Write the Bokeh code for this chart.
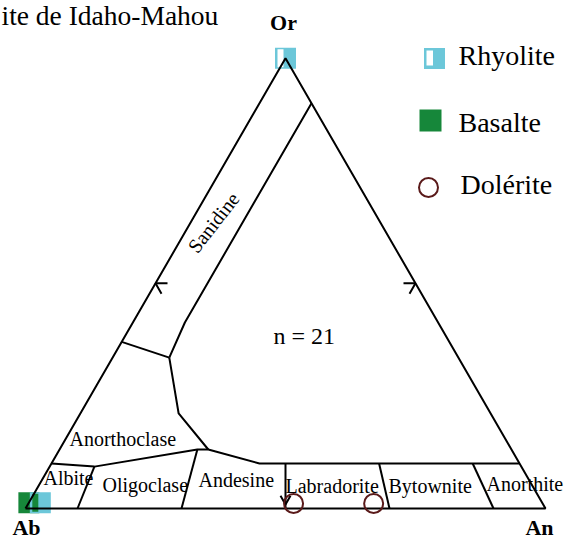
import math
from bokeh.plotting import figure
from bokeh.core.properties import value
from bokeh.embed import file_html
from bokeh.resources import INLINE

# ---------------- data ----------------
vertex_labels = ["Ab", "An", "Or"]
field_labels = ["Sanidine", "Anorthoclase", "Albite", "Oligoclase",
                "Andesine", "Labradorite", "Bytownite", "Anorthite"]
legend_labels = ["Rhyolite", "Basalte", "Dolérite"]
title_text = "ite de Idaho-Mahou"
n_samples = 21

# triangle outline (An %, Or %)
tri_an = [0, 100, 0, 0]
tri_or = [0, 0, 100, 0]
# sanidine / high-K field boundary
san_an = [10, 10, 10.9]
san_or = [90, 41.3, 33.5]
# sanidine / anorthoclase tie
tie_an = [0, 10.9]
tie_or = [37, 33.5]
# anorthoclase inner boundary
ano_an = [10.9, 18.9, 28.6]
ano_or = [33.5, 21.1, 13.1]
# plagioclase upper boundary
plag_an = [0, 8.6, 26.5, 28.6, 40, 90]
plag_or = [10, 9.3, 13.1, 13.1, 10, 10]
# plagioclase dividers
div_an_bottom = [10, 30, 50, 70, 90]
div_an_top = [8.6, 26.5, 45, 63, 81]
div_or_top = [9.3, 13.1, 10, 10, 10]

# samples (An %, Or %)
rhy_an = [0, 2.2]
rhy_or = [100, 1.3]
bas_an = [0]
bas_or = [1.3]
dol_an = [51, 66.4]
dol_or = [1.1, 1.1]

# ---------------- helpers ----------------
S3 = math.sqrt(3) / 2
PX = 1 / 520.0  # one screen pixel in data units


def tern(an, orr):
    xs = [(a + o / 2) / 100 for a, o in zip(an, orr)]
    ys = [o * S3 / 100 for o in orr]
    return xs, ys


def pg(px, py):
    return (px - 25) * PX, (508 - py) * PX


CYAN = "#6cc7d9"
GREEN = "#16873a"
BROWN = "#5a1a1a"
SERIF = "Liberation Serif"

W, H = 564, 542
x0, _ = pg(0, 0)
x1, _ = pg(W, 0)
_, y1 = pg(0, 0)
_, y0 = pg(0, H)

p = figure(width=W, height=H, x_range=(x0, x1), y_range=(y0, y1),
           output_backend="svg", toolbar_location=None, min_border=0)
p.axis.visible = False
p.grid.visible = False
p.outline_line_color = None
p.background_fill_color = "white"
p.border_fill_color = "white"


def square_with_hole(cx, cy, half=10.5, hole=(-8, -2, -9, 9)):
    ox = [cx - half * PX, cx + half * PX, cx + half * PX, cx - half * PX]
    oy = [cy - half * PX, cy - half * PX, cy + half * PX, cy + half * PX]
    hx = [cx + hole[0] * PX, cx + hole[1] * PX, cx + hole[1] * PX, cx + hole[0] * PX]
    hy = [cy + hole[2] * PX, cy + hole[2] * PX, cy + hole[3] * PX, cy + hole[3] * PX]
    return [[ox, hx]], [[oy, hy]]


# ---- sample markers (drawn below the lines) ----
bx, by = tern(bas_an, bas_or)
p.scatter(bx, by, marker="square", size=21, fill_color=GREEN, line_color=None)

rx, ry = tern(rhy_an, rhy_or)
mxs, mys = [], []
for cx, cy in zip(rx, ry):
    a, b = square_with_hole(cx, cy)
    mxs.append(a)
    mys.append(b)
p.multi_polygons(mxs, mys, fill_color=CYAN, line_color=None)

# ---- lines ----
lines = [(tri_an, tri_or), (san_an, san_or), (tie_an, tie_or),
         (ano_an, ano_or), (plag_an, plag_or)]
for an, orr in zip(div_an_bottom, zip(div_an_top, div_or_top)):
    lines.append(([an, orr[0]], [0, orr[1]]))
lx, ly = [], []
for an, orr in lines:
    a, b = tern(an, orr)
    lx.append(a)
    ly.append(b)
p.multi_line(lx, ly, line_color="black", line_width=2)

# ---- arrowheads at edge midpoints ----
vx, vy = tern(tri_an[:3], tri_or[:3])
edges = [((0, 2), 330, 0, 12), ((1, 2), 210, 0, 12), ((0, 1), 90, 4, 10)]
ax, ay = [], []
for (i, j), inward, inset, ln in edges:
    mx = (vx[i] + vx[j]) / 2 + inset * PX * math.cos(math.radians(inward))
    my = (vy[i] + vy[j]) / 2 + inset * PX * math.sin(math.radians(inward))
    a1 = math.radians(inward - 30)
    a2 = math.radians(inward + 30)
    ax.append([mx + ln * PX * math.cos(a1), mx, mx + ln * PX * math.cos(a2)])
    ay.append([my + ln * PX * math.sin(a1), my, my + ln * PX * math.sin(a2)])
p.multi_line(ax, ay, line_color="black", line_width=2)

# ---- dolerite circles ----
dx, dy = tern(dol_an, dol_or)
p.scatter(dx, dy, marker="circle", size=19, fill_color=None,
          line_color=BROWN, line_width=2)


def txt(label, px, py, size, align="left", angle=0.0, style="normal"):
    x, y = pg(px, py)
    p.text([x], [y], text=[label], text_font=value(SERIF),
           text_font_size=f"{size}px", text_align=align,
           text_baseline="middle", angle=angle, text_color="black",
           text_font_style=style)


# field labels
txt(field_labels[0], 213, 222, 20, "center", math.radians(52))
txt(field_labels[1], 69, 438, 20)
txt(field_labels[2], 43, 477, 20)
txt(field_labels[3], 102, 484, 20)
txt(field_labels[4], 198, 479.5, 20)
txt(field_labels[5], 285, 485.5, 20)
txt(field_labels[6], 388, 485, 20)
txt(field_labels[7], 486, 483, 20)
txt(f"n = {n_samples}", 273, 335, 24)

# vertex labels
txt(vertex_labels[2], 283, 22, 22, "center", style="bold")
txt(vertex_labels[0], 26, 527, 22, "center", style="bold")
txt(vertex_labels[1], 539, 527, 22, "center", style="bold")

# title
txt(title_text, 1, 15, 27.5)

# ---- manual legend ----
lrx, lry = pg(434, 58)
a, b = square_with_hole(lrx, lry, half=10.5, hole=(-8, -1.5, -7, 8))
p.multi_polygons([a], [b], fill_color=CYAN, line_color=None)
lbx, lby = pg(430, 120)
p.scatter([lbx], [lby], marker="square", size=22, fill_color=GREEN, line_color=None)
ldx, ldy = pg(428, 187)
p.scatter([ldx], [ldy], marker="circle", size=19, fill_color=None,
          line_color=BROWN, line_width=2)
txt(legend_labels[0], 458, 55, 28)
txt(legend_labels[1], 458, 122, 28)
txt(legend_labels[2], 460, 184, 28)

open("out.html", "w").write(file_html(p, INLINE))
